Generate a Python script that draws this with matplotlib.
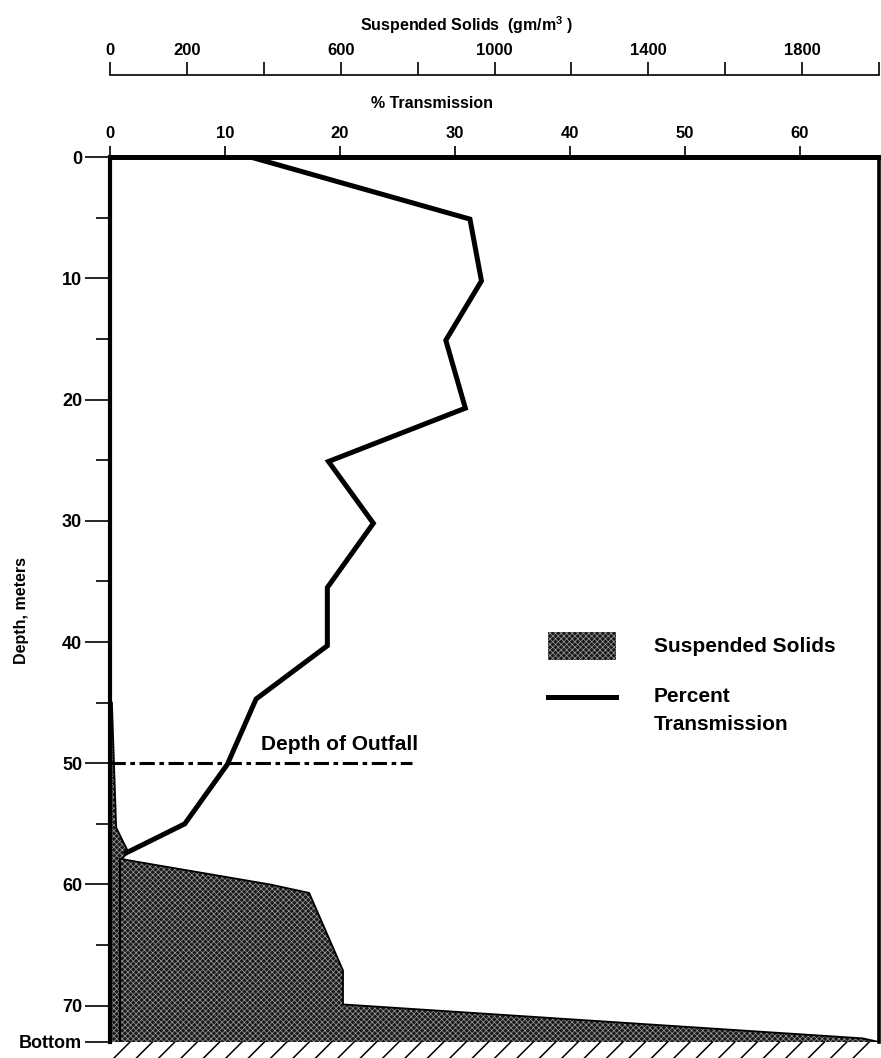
import numpy as np
import matplotlib.pyplot as plt
from matplotlib.patches import Rectangle
from matplotlib.lines import Line2D

plt.rcParams['font.family'] = ['Liberation Sans', 'DejaVu Sans']
plt.rcParams['font.weight'] = 'bold'
plt.rcParams['axes.labelweight'] = 'bold'
plt.rcParams['mathtext.fontset'] = 'custom'
plt.rcParams['mathtext.bf'] = 'Liberation Sans:bold'
plt.rcParams['mathtext.rm'] = 'Liberation Sans:bold'
plt.rcParams['mathtext.default'] = 'bf'
plt.rcParams['hatch.linewidth'] = 0.5

# percent transmission profile
trans_depth = [0, 5.1, 10.2, 15.1, 20.7, 25.1, 30.2, 35.5, 40.3, 44.7, 50.1, 55.0, 57.4]
trans_pct = [12.3, 31.3, 32.3, 29.2, 30.9, 19.0, 22.9, 18.9, 18.9, 12.7, 10.2, 6.5, 1.4]

# suspended solids profile (gm/m3)
ss_depth = [45.0, 55.3, 57.3, 57.9, 58.1, 60.0, 60.7, 67.1, 69.9, 72.7, 73.0]
ss_conc = [5, 16, 47, 31, 65, 416, 518, 606, 606, 1958, 2000]

# narrow core strip near the wall
core_depth = [57.9, 73.0]
core_conc = [26, 26]

outfall_depth = 50
outfall_end_pct = 26.3
bottom_depth = 73.0

depth_ticks = [0, 10, 20, 30, 40, 50, 60, 70, bottom_depth]
depth_labels = ['0', '10', '20', '30', '40', '50', '60', '70', 'Bottom']
depth_minor = [5, 15, 25, 35, 45, 55, 65]
trans_ticks = [0, 10, 20, 30, 40, 50, 60]
ss_ticks = list(range(0, 2001, 200))
ss_labels = ['0', '200', '', '600', '', '1000', '', '1400', '', '1800', '']

W, H = 881, 1058
fig = plt.figure(figsize=(W / 100, H / 100), dpi=100)

L = 110 / W
AW = 769 / W
B = 1 - 1042 / H
AH = (1042 - 157.3) / H

ax = fig.add_axes([L, B, AW, AH])
axs = ax.twiny()

# suspended solids fill on its own scale
axs.set_xlim(0, 2000)
axs.fill_betweenx(ss_depth, 0, ss_conc, facecolor='#1a1a1a', edgecolor='#9c9c9c',
                  hatch='xxxxxx', linewidth=0)
axs.plot(ss_conc, ss_depth, color='black', lw=1.3)
axs.plot(core_conc, core_depth, color='black', lw=1.5)
axs.set_xticks([])
for s in axs.spines.values():
    s.set_visible(False)

ax.set_zorder(axs.get_zorder() + 1)
ax.patch.set_visible(False)

ax.plot(trans_pct, trans_depth, color='black', lw=3.6, solid_joinstyle='miter')
ax.plot([0, outfall_end_pct], [outfall_depth, outfall_depth], color='black', lw=2.2,
        dashes=[5, 1.5, 1.5, 1.5])
ax.text(0.1964, 0.336, 'Depth of Outfall', transform=ax.transAxes, fontsize=15, va='center')

ax.set_xlim(0, 769 / 11.5)
ax.set_ylim(bottom_depth, 0)
axs.set_ylim(bottom_depth, 0)

ax.xaxis.tick_top()
ax.set_xticks(trans_ticks)
ax.tick_params(axis='x', direction='out', length=8, width=1.2, labelsize=12, pad=4)
ax.set_yticks(depth_ticks)
ax.set_yticklabels(depth_labels)
ax.set_yticks(depth_minor, minor=True)
ax.tick_params(axis='y', which='major', direction='out', length=18, width=1.2, labelsize=13, pad=2)
ax.tick_params(axis='y', which='minor', direction='out', length=10, width=1.2)

ax.spines['bottom'].set_visible(False)
ax.spines['top'].set_linewidth(3.6)
ax.spines['left'].set_linewidth(3.0)
ax.spines['right'].set_linewidth(2.6)

ax.xaxis.set_label_position('top')
ax.set_xlabel('% Transmission', fontsize=11.5, fontweight='bold')
ax.xaxis.set_label_coords(432 / W, 1 - 103 / H, transform=fig.transFigure)
ax.xaxis.label.set_va('center')
ax.set_ylabel('Depth, meters', fontsize=11.5, fontweight='bold')
ax.yaxis.set_label_coords(22 / W, 1 - 610 / H, transform=fig.transFigure)
ax.yaxis.label.set_va('center')

# legend drawn by hand
ax.add_patch(Rectangle((0.5696, 0.432), 0.0884, 0.0316, transform=ax.transAxes,
                       facecolor='#1a1a1a', edgecolor='#9c9c9c', hatch='xxxxxx', lw=0))
ax.plot([0.5696, 0.658], [0.390, 0.390], transform=ax.transAxes, color='black', lw=3.6)
ax.text(0.7074, 0.4476, 'Suspended Solids', transform=ax.transAxes, fontsize=15, va='center')
ax.text(0.7074, 0.390, 'Percent', transform=ax.transAxes, fontsize=15, va='center')
ax.text(0.7074, 0.3585, 'Transmission', transform=ax.transAxes, fontsize=15, va='center')

# top suspended solids scale
axt = fig.add_axes([L, 1 - 75 / H, AW, 1e-4])
axt.set_xlim(0, 2000)
axt.set_yticks([])
for k in ['left', 'right', 'bottom']:
    axt.spines[k].set_visible(False)
axt.spines['top'].set_linewidth(1.2)
axt.patch.set_visible(False)
axt.xaxis.tick_top()
axt.set_xticks(ss_ticks)
axt.set_xticklabels(ss_labels)
axt.tick_params(axis='x', direction='out', length=9.5, width=1.2, labelsize=12, pad=3)
axt.xaxis.set_label_position('top')
axt.set_xlabel(r'Suspended Solids  (gm/m$^{\mathbf{3}}$ )', fontsize=11.5, fontweight='bold')
axt.xaxis.set_label_coords(467 / W, 1 - 25 / H, transform=fig.transFigure)
axt.xaxis.label.set_va('center')

# seabed hatching under the profile
for xp in np.arange(114, 872, 22.4):
    fig.add_artist(Line2D([xp / W, (xp + 16) / W], [0, 16 / H], transform=fig.transFigure,
                          color='black', lw=1.1))

fig.savefig('out.png', dpi=100)
